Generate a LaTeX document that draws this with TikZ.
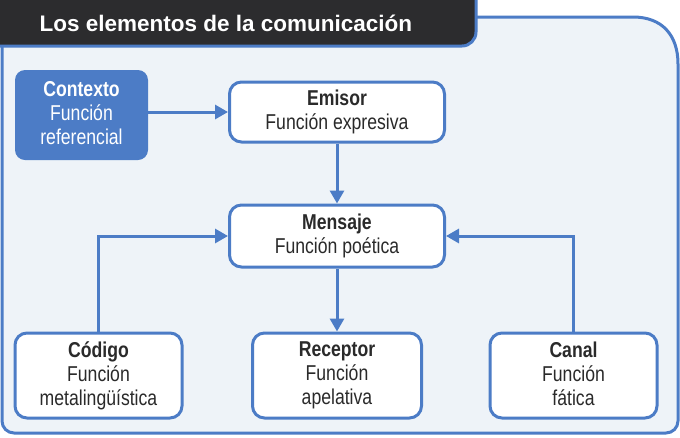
\documentclass[tikz,border=0pt]{standalone}
\usepackage{fontspec}
\setmainfont{Liberation Sans}
\newfontfamily\condf{Liberation Sans}[FakeStretch=0.82]
\usetikzlibrary{arrows.meta}
\definecolor{frameblue}{HTML}{4C7CC6}
\definecolor{panel}{HTML}{EEF3F8}
\definecolor{tabdark}{HTML}{2C2C2E}
\definecolor{txt}{HTML}{2A2A2A}
\tikzset{
  box/.style={draw=frameblue, line width=3pt, fill=white, rounded corners=12pt,
    text=txt, align=center, font=\condf\fontsize{21.5}{24}\selectfont, inner sep=0pt},
  ctxbox/.style={fill=frameblue, rounded corners=10pt, text=white, align=center,
    font=\condf\fontsize{21.5}{24}\selectfont, inner sep=0pt},
  conn/.style={draw=frameblue, line width=3pt, -{Triangle[length=13pt,width=14pt]}},
  frameline/.style={draw=frameblue, line width=3pt},
}
\begin{document}
\begin{tikzpicture}[x=1pt,y=-1pt]
\useasboundingbox[fill=white] (0,0) rectangle (680,437);
% panel
\path[frameline, fill=panel] (470,17) -- (633,17) .. controls (662,17) and (678,35) .. (678,64)
  [rounded corners=12] -- (678,433) -- (2,433) -- (2,30);
% title tab
\draw[frameline, fill=tabdark, rounded corners=14] (-20,-20) -- (476,-20) -- (476,46) -- (0,46) -- (-20,46);
\node[font=\bfseries\fontsize{22.5}{26}\selectfont, text=white, anchor=base west] (title) at (36,31) {Los elementos de la comunicación};
% nodes
\node[ctxbox, minimum width=133pt, minimum height=90pt] (ctx) at (81.5,115) {\textbf{Contexto}\\Función\\referencial\vphantom{g}};
\node[box, minimum width=215pt, minimum height=60pt] (emi) at (337,112) {\textbf{Emisor}\\Función expresiva};
\node[box, minimum width=215pt, minimum height=62pt] (men) at (337,236) {\textbf{Mensaje}\\Función poética};
\node[box, minimum width=167pt, minimum height=85pt] (cod) at (98.5,375.5) {\textbf{Código}\\Función\\metalingüística};
\node[box, minimum width=169pt, minimum height=85pt] (rec) at (337,375.5) {\textbf{Receptor}\\Función\\apelativa};
\node[box, minimum width=167pt, minimum height=85pt] (can) at (573.5,375.5) {\textbf{Canal}\\Función\\fática\vphantom{g}};
% connectors
\draw[conn] (ctx.east |- emi.west) -- (emi.west);
\draw[conn] (emi.south) -- (men.north);
\draw[conn] (men.south) -- (rec.north);
\draw[conn] (cod.north) |- (men.west);
\draw[conn] (can.north) |- (men.east);
\end{tikzpicture}
\end{document}
